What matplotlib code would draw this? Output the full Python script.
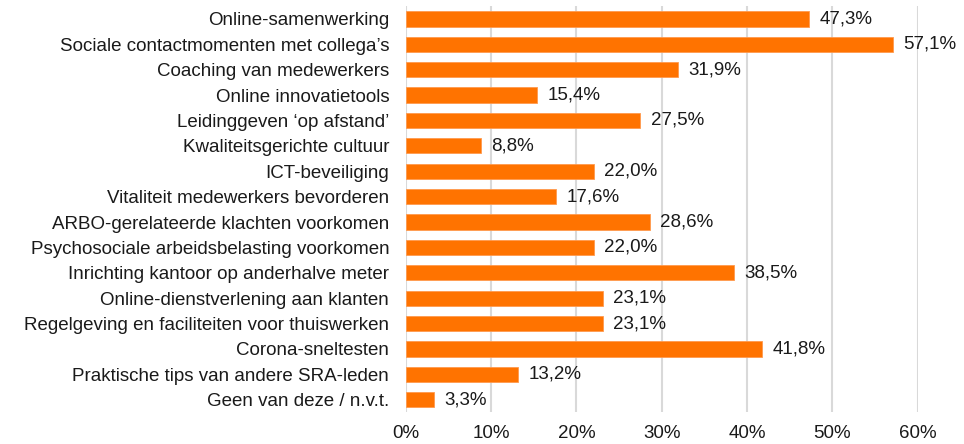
import matplotlib.pyplot as plt
from matplotlib.ticker import FuncFormatter

categories = [
    "Online-samenwerking",
    "Sociale contactmomenten met collega\u2019s",
    "Coaching van medewerkers",
    "Online innovatietools",
    "Leidinggeven \u2018op afstand\u2019",
    "Kwaliteitsgerichte cultuur",
    "ICT-beveiliging",
    "Vitaliteit medewerkers bevorderen",
    "ARBO-gerelateerde klachten voorkomen",
    "Psychosociale arbeidsbelasting voorkomen",
    "Inrichting kantoor op anderhalve meter",
    "Online-dienstverlening aan klanten",
    "Regelgeving en faciliteiten voor thuiswerken",
    "Corona-sneltesten",
    "Praktische tips van andere SRA-leden",
    "Geen van deze / n.v.t.",
]
values = [47.3, 57.1, 31.9, 15.4, 27.5, 8.8, 22.0, 17.6, 28.6, 22.0,
          38.5, 23.1, 23.1, 41.8, 13.2, 3.3]
xticks = [0, 10, 20, 30, 40, 50, 60]

plt.rcParams['font.family'] = ['Liberation Sans', 'DejaVu Sans']

fig = plt.figure(figsize=(9.64, 4.44), dpi=100)
ax = fig.add_axes([0.421, 0.071, 0.531, 0.915])

y = list(range(len(categories)))
ax.barh(y, values, height=0.6, color='#FF7300', edgecolor='#FF9A4D', linewidth=0.6, zorder=3)

# value labels, dutch decimal comma
for yi, v in zip(y, values):
    ax.text(v + 1.2, yi, f"{v:.1f}%".replace('.', ','), va='center', ha='left',
            fontsize=13.5, color='#1a1a1a', clip_on=False)

ax.set_yticks(y)
ax.set_yticklabels(categories, fontsize=13.5, color='#1a1a1a')
ax.set_ylim(len(categories) - 0.5, -0.5)
ax.set_xlim(0, 60)
ax.set_xticks(xticks)
ax.xaxis.set_major_formatter(FuncFormatter(lambda x, p: f"{x:.0f}%"))
ax.tick_params(axis='x', labelsize=13.5, colors='#1a1a1a', length=0, pad=9)
ax.tick_params(axis='y', length=0, pad=12)
ax.grid(axis='x', color='#D9D9D9', linewidth=1.5, zorder=0)
for s in ax.spines.values():
    s.set_visible(False)

fig.savefig("out.png", dpi=100)
